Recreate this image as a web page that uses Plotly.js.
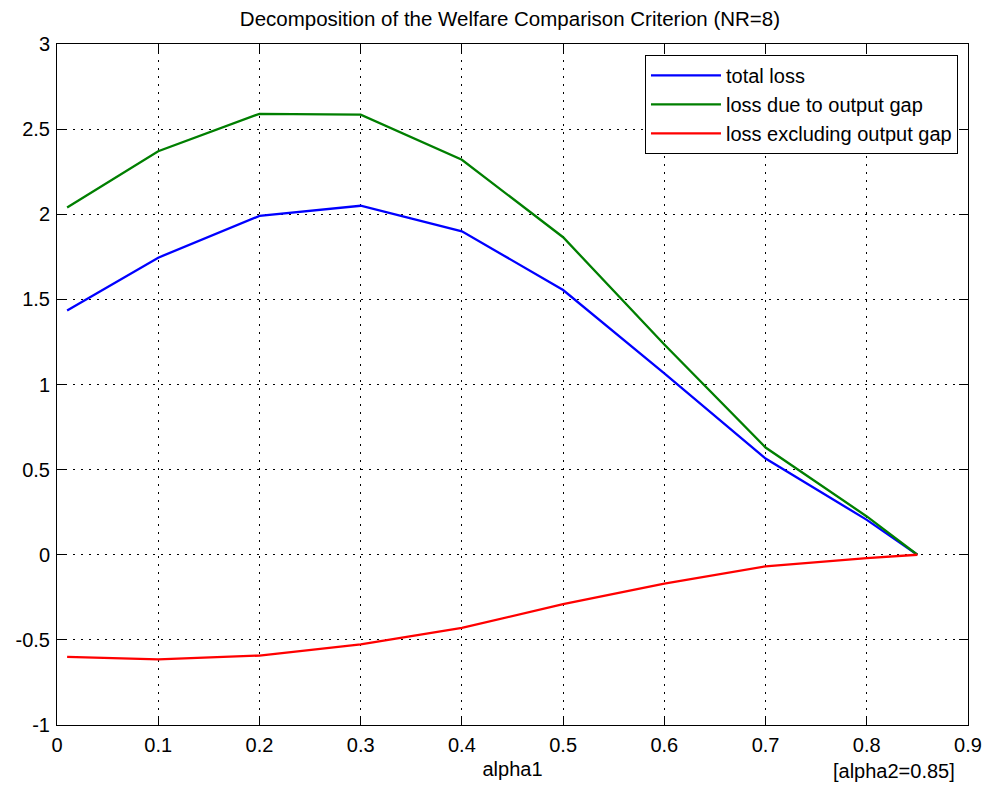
<!DOCTYPE html>
<html>
<head>
<meta charset="utf-8">
<script src="https://cdn.plot.ly/plotly-3.0.1.min.js"></script>
<style>html,body{margin:0;padding:0;background:#fff;}#chart{width:997px;height:789px;}</style>
</head>
<body>
<div id="chart"></div>
<script>
var alpha1 = [0.01, 0.1, 0.2, 0.3, 0.4, 0.5, 0.6, 0.7, 0.8, 0.85];
var totalLoss = [1.435, 1.745, 1.99, 2.05, 1.90, 1.555, 1.065, 0.565, 0.205, 0];
var outputGapLoss = [2.04, 2.37, 2.59, 2.585, 2.32, 1.865, 1.235, 0.63, 0.225, 0];
var excludingGapLoss = [-0.60, -0.615, -0.592, -0.527, -0.43, -0.29, -0.17, -0.068, -0.02, 0];
var seriesNames = ['total loss', 'loss due to output gap', 'loss excluding output gap'];
var xTickVals = [0, 0.1, 0.2, 0.3, 0.4, 0.5, 0.6, 0.7, 0.8, 0.9];
var xTickText = ['0', '0.1', '0.2', '0.3', '0.4', '0.5', '0.6', '0.7', '0.8', '0.9'];
var yTickVals = [-1, -0.5, 0, 0.5, 1, 1.5, 2, 2.5, 3];
var yTickText = ['-1', '-0.5', '0', '0.5', '1', '1.5', '2', '2.5', '3'];

var FONT = 'Liberation Sans, Arial, sans-serif';
var traces = [
  {x: alpha1, y: totalLoss, name: seriesNames[0], mode: 'lines', line: {color: '#0000ff', width: 2.3}},
  {x: alpha1, y: outputGapLoss, name: seriesNames[1], mode: 'lines', line: {color: '#007f00', width: 2.3}},
  {x: alpha1, y: excludingGapLoss, name: seriesNames[2], mode: 'lines', line: {color: '#ff0000', width: 2.3}}
];
var axisCommon = {
  showline: true, linecolor: '#000', linewidth: 1, mirror: 'ticks',
  ticks: 'inside', ticklen: 9, tickcolor: '#000', tickwidth: 1,
  showgrid: true, gridcolor: '#000', griddash: '1.5px,6.5px', gridwidth: 1.2,
  zeroline: false, tickfont: {family: FONT, size: 20, color: '#000'}
};
var layout = {
  width: 997, height: 789,
  paper_bgcolor: '#fff', plot_bgcolor: '#fff',
  margin: {l: 57, r: 29, t: 44, b: 64},
  title: {text: 'Decomposition of the Welfare Comparison Criterion (NR=8)', font: {family: FONT, size: 20.5, color: '#000'},
    x: 0.5115, xanchor: 'center', y: 0.976, yanchor: 'middle'},
  xaxis: Object.assign({}, axisCommon, {range: [0, 0.9], tickmode: 'array', tickvals: xTickVals, ticktext: xTickText,
    ticklabelstandoff: 2,
    title: {text: 'alpha1', font: {family: FONT, size: 20, color: '#000'}, standoff: 6}}),
  yaxis: Object.assign({}, axisCommon, {range: [-1, 3], tickmode: 'array', tickvals: yTickVals, ticktext: yTickText,
    ticklabelstandoff: 2}),
  showlegend: true,
  legend: {x: 0.989, xanchor: 'right', y: 0.984, yanchor: 'top', bgcolor: '#fff', bordercolor: '#000', borderwidth: 1,
    font: {family: FONT, size: 20, color: '#000'}, itemwidth: 70, tracegroupgap: 0},
  annotations: [
    {text: '[alpha2=0.85]', xref: 'paper', yref: 'paper', x: 0.988, xanchor: 'right', y: -0.0675, yanchor: 'middle', showarrow: false,
     font: {family: FONT, size: 20, color: '#000'}}
  ]
};
Plotly.newPlot('chart', traces, layout, {displayModeBar: false, staticPlot: true});
</script>
</body>
</html>
